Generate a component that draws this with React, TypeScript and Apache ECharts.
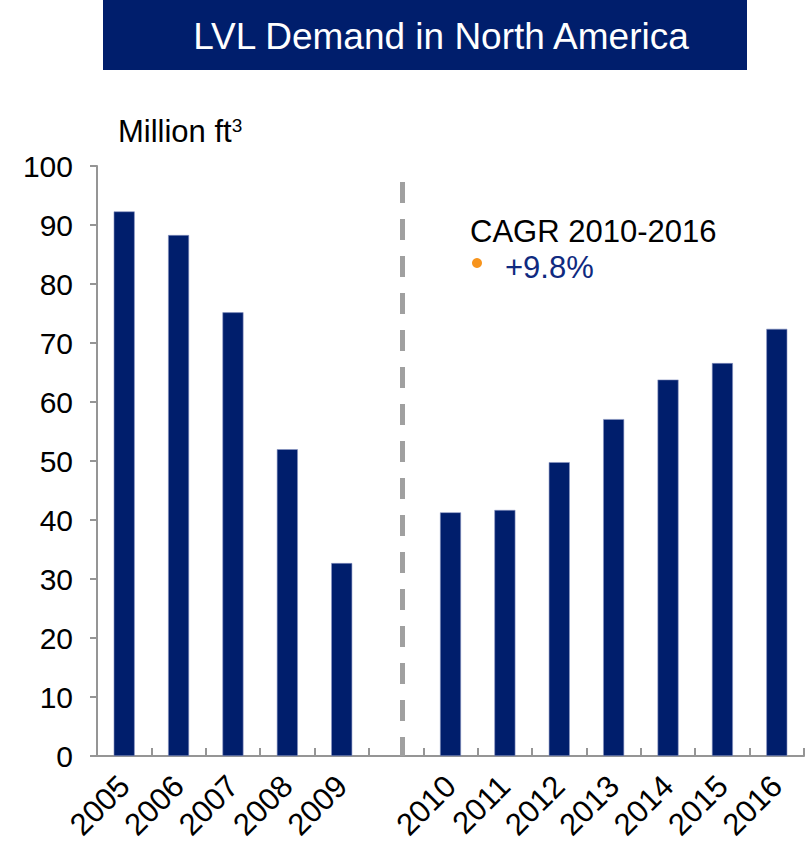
import React, { useEffect, useRef } from "react";
import * as echarts from "echarts";

const years = ["2005", "2006", "2007", "2008", "2009", "", "2010", "2011", "2012", "2013", "2014", "2015", "2016"];
const demand = [92.3, 88.3, 75.2, 52.0, 32.7, null, 41.3, 41.7, 49.8, 57.1, 63.8, 66.6, 72.4];
const yTicks = { min: 0, max: 100, interval: 10 };
const dividerX = 5.61; // position between 2009 and 2010 on a 0..13 scale
const dividerTop = 97.3;
const titleText = "LVL Demand in North America";
const unitText = "Million ft";
const cagrLabel = "CAGR 2010-2016";
const cagrValue = "+9.8%";

const FONT = "'Liberation Sans', Arial, Helvetica, sans-serif";

export default function App() {
  const ref = useRef<HTMLDivElement>(null);
  useEffect(() => {
    if (!ref.current) return;
    const chart = echarts.init(ref.current, undefined, { renderer: "svg" });
    chart.setOption({
      animation: false,
      backgroundColor: "#ffffff",
      grid: { left: 97, right: 2, top: 166, bottom: 92, containLabel: false },
      xAxis: [
        {
          type: "category",
          data: years,
          axisLine: { lineStyle: { color: "#959595", width: 2 } },
          axisTick: { show: true, inside: true, length: 8, lineStyle: { color: "#959595", width: 2 } },
          axisLabel: {
            rotate: 45,
            margin: 25,
            interval: 0,
            fontSize: 31,
            fontFamily: FONT,
            color: "#000",
          },
        },
        { type: "value", min: 0, max: 13, show: false },
      ],
      yAxis: {
        type: "value",
        min: yTicks.min,
        max: yTicks.max,
        interval: yTicks.interval,
        splitLine: { show: false },
        axisLine: { show: true, lineStyle: { color: "#959595", width: 2 } },
        axisTick: { show: true, length: 7, lineStyle: { color: "#959595", width: 2 } },
        axisLabel: { fontSize: 30, fontFamily: FONT, color: "#000", margin: 24 },
      },
      series: [
        {
          type: "bar",
          data: demand,
          barWidth: 21,
          itemStyle: { color: "#001E6C", borderColor: "#8a96c2", borderWidth: 0.6 },
        },
        {
          type: "scatter",
          xAxisIndex: 1,
          data: [],
          markLine: {
            silent: true,
            symbol: "none",
            label: { show: false },
            lineStyle: { color: "#a0a0a0", width: 5, type: [21, 16] },
            data: [[{ coord: [dividerX, dividerTop] }, { coord: [dividerX, 0] }]],
          },
        },
      ],
      graphic: [
        {
          type: "rect",
          shape: { x: 103, y: 0, width: 644, height: 70 },
          style: { fill: "#001E6C" },
        },
        {
          type: "text",
          style: {
            text: titleText,
            x: 441,
            y: 36,
            align: "center",
            verticalAlign: "middle",
            fontSize: 37,
            fontFamily: FONT,
            fill: "#ffffff",
          },
        },
        {
          type: "text",
          style: {
            text: "{a|" + unitText + "}{b|3}",
            x: 118,
            y: 131,
            verticalAlign: "middle",
            rich: {
              a: { fontSize: 31, fontFamily: FONT, fill: "#000", color: "#000" },
              b: { fontSize: 19, fontFamily: FONT, fill: "#000", color: "#000", verticalAlign: "top", padding: [0, 0, 12, 0] },
            },
          },
        },
        {
          type: "text",
          style: {
            text: cagrLabel,
            x: 470,
            y: 231,
            verticalAlign: "middle",
            fontSize: 31,
            fontFamily: FONT,
            fill: "#000",
          },
        },
        {
          type: "circle",
          shape: { cx: 477, cy: 263, r: 5 },
          style: { fill: "#F7941D" },
        },
        {
          type: "text",
          style: {
            text: cagrValue,
            x: 505,
            y: 267,
            verticalAlign: "middle",
            fontSize: 31,
            fontFamily: FONT,
            fill: "#0F2A80",
          },
        },
      ],
    });
    return () => chart.dispose();
  }, []);
  return <div ref={ref} style={{ width: 806, height: 848, position: "absolute", left: 0, top: 0 }} />;
}
